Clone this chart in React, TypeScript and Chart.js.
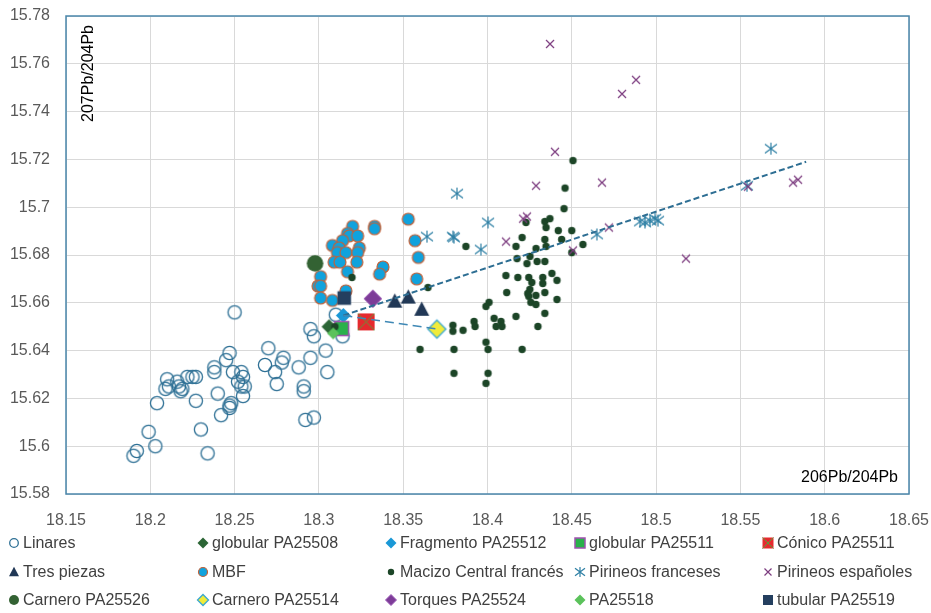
import React, { useEffect, useRef } from 'react';
import { Chart, registerables } from 'chart.js';
Chart.register(...registerables);

// ---------- DATA ----------
const xTicks = [18.15, 18.2, 18.25, 18.3, 18.35, 18.4, 18.45, 18.5, 18.55, 18.6, 18.65];
const yTicks = [15.58, 15.6, 15.62, 15.64, 15.66, 15.68, 15.7, 15.72, 15.74, 15.76, 15.78];
const xTitle = '206Pb/204Pb';
const yTitle = '207Pb/204Pb';

const linaresX = [18.190, 18.192, 18.199, 18.203, 18.204, 18.210, 18.209, 18.211, 18.216, 18.217, 18.218, 18.222, 18.227, 18.225, 18.227, 18.230, 18.234, 18.238, 18.238, 18.240, 18.242, 18.245, 18.247, 18.247, 18.247, 18.248, 18.249, 18.254, 18.255, 18.252, 18.254, 18.256, 18.255, 18.268, 18.270, 18.250, 18.274, 18.279, 18.278, 18.275, 18.288, 18.295, 18.291, 18.291, 18.292, 18.297, 18.295, 18.297, 18.304, 18.305, 18.310, 18.314, 18.219];
const linaresY = [15.596, 15.598, 15.606, 15.600, 15.618, 15.628, 15.624, 15.625, 15.627, 15.625, 15.623, 15.629, 15.629, 15.629, 15.619, 15.607, 15.597, 15.633, 15.631, 15.622, 15.613, 15.636, 15.639, 15.617, 15.616, 15.618, 15.631, 15.631, 15.629, 15.627, 15.625, 15.625, 15.621, 15.634, 15.641, 15.656, 15.631, 15.637, 15.635, 15.626, 15.633, 15.637, 15.625, 15.623, 15.611, 15.612, 15.649, 15.646, 15.640, 15.631, 15.655, 15.646, 15.624];

const globular08X = [18.306];
const globular08Y = [15.650];
const fragmentoX = [18.3145];
const fragmentoY = [15.6547];
const globular11X = [18.3135];
const globular11Y = [15.6492];
const conicoX = [18.328];
const conicoY = [15.652];
const tresX = [18.345, 18.353, 18.361];
const tresY = [15.6607, 15.6624, 15.6573];

const mbfX = [18.320, 18.333, 18.333, 18.353, 18.357, 18.359, 18.358, 18.317, 18.318, 18.323, 18.314, 18.308, 18.312, 18.324, 18.311, 18.316, 18.323, 18.309, 18.3125, 18.3225, 18.317, 18.338, 18.336, 18.301, 18.2995, 18.301, 18.301, 18.308, 18.316];
const mbfY = [15.692, 15.692, 15.691, 15.695, 15.686, 15.679, 15.670, 15.689, 15.688, 15.688, 15.686, 15.684, 15.683, 15.683, 15.681, 15.681, 15.681, 15.677, 15.677, 15.677, 15.673, 15.675, 15.672, 15.671, 15.667, 15.667, 15.662, 15.661, 15.665];

const macizoX = [18.4507, 18.446, 18.4454, 18.434, 18.437, 18.4228, 18.4347, 18.442, 18.450, 18.4205, 18.434, 18.444, 18.4566, 18.4169, 18.4288, 18.4347, 18.450, 18.3872, 18.4175, 18.4252, 18.4234, 18.4294, 18.434, 18.4109, 18.418, 18.4245, 18.4328, 18.4382, 18.4412, 18.4263, 18.4328, 18.4251, 18.4239, 18.4114, 18.4245, 18.4287, 18.434, 18.4257, 18.4287, 18.4412, 18.4009, 18.3991, 18.4169, 18.434, 18.4299, 18.4039, 18.408, 18.4051, 18.4086, 18.392, 18.3926, 18.3795, 18.3795, 18.3855, 18.3991, 18.4003, 18.4205, 18.3801, 18.36, 18.3801, 18.4003, 18.3991, 18.3647, 18.3196, 18.3095];
const macizoY = [15.7195, 15.708, 15.6994, 15.694, 15.6952, 15.6936, 15.6915, 15.6902, 15.6902, 15.6873, 15.6865, 15.6865, 15.6844, 15.6836, 15.6827, 15.6836, 15.681, 15.6836, 15.6785, 15.6794, 15.6764, 15.6773, 15.6773, 15.6714, 15.6706, 15.6706, 15.6706, 15.6723, 15.6694, 15.6685, 15.6681, 15.6656, 15.6639, 15.6643, 15.6627, 15.6631, 15.6643, 15.6602, 15.6593, 15.6614, 15.6602, 15.6585, 15.6543, 15.6556, 15.6501, 15.6535, 15.6522, 15.6501, 15.6501, 15.6522, 15.6501, 15.6506, 15.6481, 15.6485, 15.6435, 15.6405, 15.6405, 15.6405, 15.6405, 15.6305, 15.6305, 15.6263, 15.6664, 15.6706, 15.650];

const pirFrX = [18.3819, 18.3641, 18.3795, 18.3801, 18.4003, 18.3961, 18.4649, 18.4905, 18.4934, 18.4964, 18.4994, 18.5011, 18.5539, 18.5681];
const pirFrY = [15.7057, 15.6877, 15.6877, 15.6873, 15.6936, 15.6823, 15.6886, 15.694, 15.6936, 15.6944, 15.6952, 15.6944, 15.709, 15.7245];

const pirEsX = [18.4371, 18.4881, 18.4798, 18.440, 18.4288, 18.4679, 18.4211, 18.4234, 18.411, 18.472, 18.4507, 18.5177, 18.5545, 18.5812, 18.5842];
const pirEsY = [15.7683, 15.7533, 15.7474, 15.7232, 15.709, 15.7103, 15.6952, 15.6961, 15.6856, 15.6915, 15.6819, 15.6785, 15.7086, 15.7103, 15.7115];

const carnero26X = [18.2977];
const carnero26Y = [15.6765];
const carnero14X = [18.370];
const carnero14Y = [15.649];
const torquesX = [18.332];
const torquesY = [15.6617];
const pa25518X = [18.3085];
const pa25518Y = [15.6472];
const tubularX = [18.315];
const tubularY = [15.662];

const trendX = [18.3145, 18.589];
const trendY = [15.6547, 15.719];
const linkX = [18.3145, 18.370];
const linkY = [15.6547, 15.649];

// ---------- MARKERS ----------
type Spec = { kind: string; s: number; ls: number; fill?: string; stroke?: string; lw?: number; xColor?: string };

function drawShape(ctx: CanvasRenderingContext2D, sp: Spec, x: number, y: number, s: number) {
  ctx.save();
  ctx.beginPath();
  const k = sp.kind;
  if (k === 'circle') {
    ctx.arc(x, y, s, 0, Math.PI * 2);
  } else if (k === 'square' || k === 'squareX') {
    ctx.rect(x - s, y - s, 2 * s, 2 * s);
  } else if (k === 'diamond') {
    ctx.moveTo(x, y - s); ctx.lineTo(x + s, y); ctx.lineTo(x, y + s); ctx.lineTo(x - s, y); ctx.closePath();
  } else if (k === 'triangle') {
    ctx.moveTo(x, y - s * 1.05); ctx.lineTo(x + s, y + s * 0.85); ctx.lineTo(x - s, y + s * 0.85); ctx.closePath();
  } else if (k === 'x') {
    ctx.moveTo(x - s, y - s); ctx.lineTo(x + s, y + s); ctx.moveTo(x + s, y - s); ctx.lineTo(x - s, y + s);
  } else if (k === 'star') {
    ctx.moveTo(x, y - s); ctx.lineTo(x, y + s);
    ctx.moveTo(x - s, y - s * 0.75); ctx.lineTo(x + s, y + s * 0.75);
    ctx.moveTo(x + s, y - s * 0.75); ctx.lineTo(x - s, y + s * 0.75);
  }
  if (sp.fill) { ctx.fillStyle = sp.fill; ctx.fill(); }
  if (sp.stroke) { ctx.strokeStyle = sp.stroke; ctx.lineWidth = sp.lw || 1; ctx.stroke(); }
  if (k === 'squareX' && sp.xColor) {
    ctx.beginPath();
    ctx.moveTo(x - s, y - s); ctx.lineTo(x + s, y + s); ctx.moveTo(x + s, y - s); ctx.lineTo(x - s, y + s);
    ctx.strokeStyle = sp.xColor; ctx.lineWidth = 1; ctx.stroke();
  }
  ctx.restore();
}

function makeImage(sp: Spec): HTMLCanvasElement {
  const c = document.createElement('canvas');
  const size = Math.ceil(2 * (sp.s * 1.1 + (sp.lw || 1)) + 2);
  c.width = size; c.height = size;
  const ctx = c.getContext('2d')!;
  drawShape(ctx, sp, size / 2, size / 2, sp.s);
  return c;
}

const series: { label: string; xs: number[]; ys: number[]; spec: Spec }[] = [
  { label: 'Linares', xs: linaresX, ys: linaresY, spec: { kind: 'circle', s: 6.6, ls: 4.3, stroke: '#2e7095', lw: 1.3 } },
  { label: 'globular PA25508', xs: globular08X, ys: globular08Y, spec: { kind: 'diamond', s: 7.5, ls: 5.5, fill: '#2b6535' } },
  { label: 'Fragmento PA25512', xs: fragmentoX, ys: fragmentoY, spec: { kind: 'diamond', s: 7.5, ls: 5.5, fill: '#1a98d6' } },
  { label: 'globular PA25511', xs: globular11X, ys: globular11Y, spec: { kind: 'square', s: 7, ls: 5, fill: '#2ab14b', stroke: '#a052b0', lw: 1.5 } },
  { label: 'Cónico PA25511', xs: conicoX, ys: conicoY, spec: { kind: 'squareX', s: 8.5, ls: 5.5, fill: '#e52a2e', xColor: '#5d9b3a' } },
  { label: 'Tres piezas', xs: tresX, ys: tresY, spec: { kind: 'triangle', s: 7.5, ls: 5, fill: '#213856' } },
  { label: 'MBF', xs: mbfX, ys: mbfY, spec: { kind: 'circle', s: 6, ls: 4.5, fill: '#10a2dd', stroke: '#c0623a', lw: 1.2 } },
  { label: 'Macizo Central francés', xs: macizoX, ys: macizoY, spec: { kind: 'circle', s: 3.7, ls: 3.2, fill: '#1c4527' } },
  { label: 'Pirineos franceses', xs: pirFrX, ys: pirFrY, spec: { kind: 'star', s: 6, ls: 5, stroke: '#2f80a5', lw: 1.2 } },
  { label: 'Pirineos españoles', xs: pirEsX, ys: pirEsY, spec: { kind: 'x', s: 4, ls: 3.5, stroke: '#7c3c7f', lw: 1.2 } },
  { label: 'Carnero PA25526', xs: carnero26X, ys: carnero26Y, spec: { kind: 'circle', s: 8.3, ls: 5, fill: '#336233' } },
  { label: 'Carnero PA25514', xs: carnero14X, ys: carnero14Y, spec: { kind: 'diamond', s: 9, ls: 5.5, fill: '#f0eb3a', stroke: '#3aa8d2', lw: 1.3 } },
  { label: 'Torques PA25524', xs: torquesX, ys: torquesY, spec: { kind: 'diamond', s: 8.8, ls: 5.5, fill: '#7d3c98', stroke: '#9b59b6', lw: 1 } },
  { label: 'PA25518', xs: pa25518X, ys: pa25518Y, spec: { kind: 'diamond', s: 6, ls: 5.5, fill: '#5bc25b' } },
  { label: 'tubular PA25519', xs: tubularX, ys: tubularY, spec: { kind: 'square', s: 6.8, ls: 5, fill: '#243f5f' } },
];

const legendCols = [14, 203, 391, 580, 768];
const legendRows = [543, 572, 600];
const FONT = '"Liberation Sans", Arial, sans-serif';

const fmt = (v: number) => String(Number(v.toFixed(2)));
const zeroPad = (sc: any) => { sc.paddingTop = 0; sc.paddingBottom = 0; sc.paddingLeft = 0; sc.paddingRight = 0; };

export default function App() {
  const ref = useRef<HTMLCanvasElement | null>(null);
  useEffect(() => {
    document.body.style.margin = '0';
    const canvas = ref.current!;
    const n = series.length;
    const datasets: any[] = series.map((s, i) => ({
      label: s.label,
      data: s.xs.map((x, j) => ({ x, y: s.ys[j] })),
      pointStyle: makeImage(s.spec),
      pointRadius: s.spec.s,
      showLine: false,
      order: n + 5 - i,
    }));
    datasets.push({
      label: 'trend',
      data: trendX.map((x, j) => ({ x, y: trendY[j] })),
      showLine: true, pointRadius: 0, borderColor: '#2d6e93', borderWidth: 2, borderDash: [6, 3], order: 1,
    });
    datasets.push({
      label: 'link',
      data: linkX.map((x, j) => ({ x, y: linkY[j] })),
      showLine: true, pointRadius: 0, borderColor: '#3f88b5', borderWidth: 1.5, borderDash: [9, 5], order: 0,
    });

    const decor = {
      id: 'decor',
      afterDraw(chart: any) {
        const { ctx, chartArea: a } = chart;
        ctx.save();
        ctx.strokeStyle = '#4a86ab';
        ctx.lineWidth = 1.5;
        ctx.strokeRect(a.left, a.top, a.right - a.left, a.bottom - a.top);
        ctx.fillStyle = '#000';
        ctx.font = '16px ' + FONT;
        ctx.save();
        ctx.translate(a.left + 23, a.top + 9);
        ctx.rotate(-Math.PI / 2);
        ctx.textAlign = 'right';
        ctx.textBaseline = 'middle';
        ctx.fillText(yTitle, 0, 0);
        ctx.restore();
        ctx.textAlign = 'right';
        ctx.textBaseline = 'middle';
        ctx.fillText(xTitle, a.right - 11, a.bottom - 16);
        // legend
        series.forEach((s, i) => {
          const cx = legendCols[i % 5];
          const cy = legendRows[Math.floor(i / 5)];
          drawShape(ctx, s.spec, cx, cy, s.spec.ls);
          ctx.fillStyle = '#404040';
          ctx.font = '16px ' + FONT;
          ctx.textAlign = 'left';
          ctx.textBaseline = 'middle';
          ctx.fillText(s.label, cx + 9, cy + 1);
        });
        ctx.restore();
      },
    };

    const chart = new Chart(canvas, {
      type: 'scatter',
      data: { datasets },
      options: {
        animation: false,
        responsive: true,
        maintainAspectRatio: false,
        events: [],
        layout: { autoPadding: false, padding: { left: 0, top: 16, right: 22, bottom: 79 } },
        plugins: { legend: { display: false }, tooltip: { enabled: false } },
        scales: {
          x: {
            type: 'linear',
            min: 18.15,
            max: 18.65,
            afterBuildTicks: (sc: any) => { sc.ticks = xTicks.map((v) => ({ value: v })); },
            afterFit: (sc: any) => { sc.height = 40; zeroPad(sc); },
            grid: { color: '#d9d9d9', lineWidth: 1, drawTicks: false },
            border: { display: false },
            ticks: { padding: 17, color: '#595959', font: { size: 16, family: FONT }, callback: (v: any) => fmt(Number(v)), maxRotation: 0, autoSkip: false },
          },
          y: {
            type: 'linear',
            min: 15.58,
            max: 15.78,
            afterBuildTicks: (sc: any) => { sc.ticks = yTicks.map((v) => ({ value: v })); },
            afterFit: (sc: any) => { sc.width = 66; zeroPad(sc); },
            grid: { color: '#d9d9d9', lineWidth: 1, drawTicks: false },
            border: { display: false },
            ticks: { padding: 16, color: '#595959', font: { size: 16, family: FONT }, callback: (v: any) => fmt(Number(v)), autoSkip: false },
          },
        },
      },
      plugins: [decor],
    });
    return () => chart.destroy();
  }, []);
  return (
    <div style={{ position: 'fixed', left: 0, top: 0, width: 931, height: 613, background: '#fff' }}>
      <canvas ref={ref} />
    </div>
  );
}
